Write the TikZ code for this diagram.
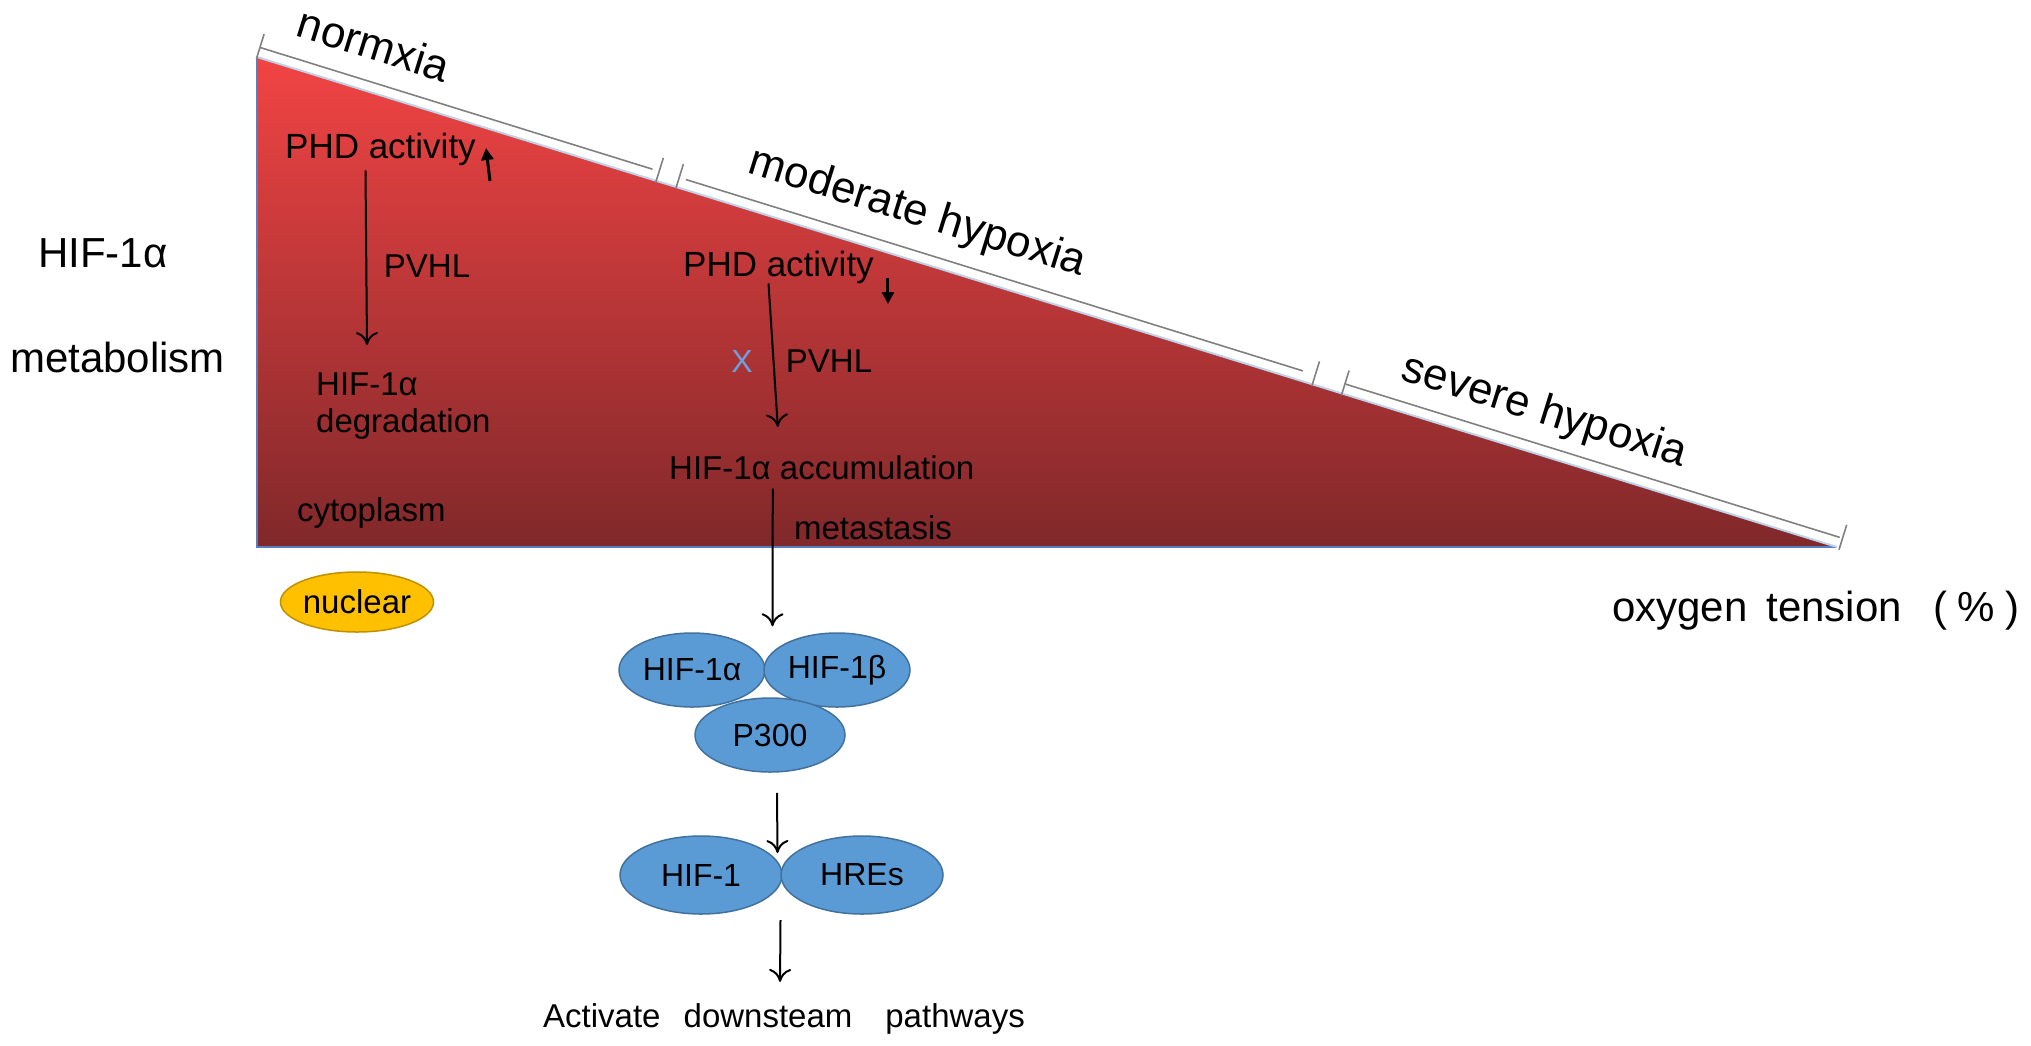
\documentclass[tikz,border=0pt]{standalone}
\usepackage{fontspec}
\setmainfont{Liberation Sans}
\usetikzlibrary{arrows.meta,shapes.geometric,calc}
\definecolor{tritop}{RGB}{242,68,68}
\definecolor{tribot}{RGB}{128,40,42}
\definecolor{triedge}{RGB}{90,125,190}
\definecolor{hypedge}{RGB}{190,210,235}
\definecolor{dimgray}{RGB}{128,128,128}
\definecolor{blobfill}{RGB}{91,155,213}
\definecolor{blobdraw}{RGB}{65,113,156}
\definecolor{nucfill}{RGB}{255,192,0}
\definecolor{nucdraw}{RGB}{191,144,0}
\definecolor{xblue}{RGB}{110,160,220}
\begin{document}
\begin{tikzpicture}[x=1pt,y=-1pt,
  big/.style={font=\fontsize{42}{48}\selectfont, inner sep=0pt},
  zone/.style={font=\fontsize{44}{50}\selectfont, inner sep=0pt, rotate=-17.23},
  txt/.style={font=\fontsize{33}{37}\selectfont, inner sep=0pt},
  phd/.style={font=\fontsize{35}{40}\selectfont, inner sep=0pt},
  blob/.style={ellipse, fill=blobfill, draw=blobdraw, line width=1.5pt, inner sep=0pt, font=\fontsize{32}{36}\selectfont},
  flow/.style={-{To[length=13pt,width=22pt]}, line width=2pt},
  updown/.style={-{Triangle[length=12pt,width=12pt]}, line width=3pt},
  dim/.style={draw=dimgray, line width=1.6pt}]
\useasboundingbox (0,0) rectangle (2031,1045);
\coordinate (A) at (257,57);
\coordinate (B) at (257,547);
\coordinate (C) at (1837,547);
\shade[top color=tritop, bottom color=tribot] (A) -- (B) -- (C) -- cycle;
\draw[triedge, line width=1.5pt] (A) -- (B) -- (C);
\draw[hypedge, line width=2pt] (A) -- (C);
\begin{scope}[shift={(A)}, rotate=-17.23]
  \draw[dim] (0,-10) -- (411,-10);
  \draw[dim] (446,-10) -- (1092,-10);
  \draw[dim] (1137,-10) -- (1654,-10);
  \foreach \s in {0,418,439,1105,1136,1657} \draw[dim] (\s,2) -- (\s,-24);
  \node[zone] (normx) at (108,-47) {normxia};
  \node[zone] (modh) at (677,-46) {moderate hypoxia};
  \node[zone] (sevh) at (1335,-42) {severe hypoxia};
\end{scope}
% left labels
\node[big, anchor=base west] (hifl) at (38,267) {HIF-1α};
\node[big, anchor=base west] (metab) at (10,372) {metabolism};
\node[big, anchor=base west] (oxy) at (1612,621) {oxygen\hspace{0.45em}tension\hspace{0.75em}(\hspace{0.25em}\%\hspace{0.25em})};
% normoxia chain
\node[phd, anchor=base west] (phdA) at (285,158) {PHD activity};
\node[txt] (pvhlA) at (427,266) {PVHL};
\node[txt, anchor=north west, align=left] (degA) at (316,373) {HIF-1α\\degradation};
\node[txt, anchor=base west] (cyto) at (297,521) {cytoplasm};
\node[ellipse, fill=nucfill, draw=nucdraw, line width=1.5pt, minimum width=142, minimum height=60, txt] (nuc) at (357,602) {nuclear};
\draw[flow] ($(phdA.south)+(-15,5)$) -- ($(degA.north west)+(51,-28)$);
\draw[updown] ($(phdA.base east)+(14,23)$) -- ($(phdA.base east)+(10,-10)$);
% moderate hypoxia chain
\node[phd, anchor=base west] (phdB) at (683,276) {PHD activity};
\node[txt] (pvhlB) at (829,361) {PVHL};
\node[font=\fontsize{32}{36}\selectfont, text=xblue, inner sep=0pt] (xmark) at (742,361) {X};
\node[txt, anchor=base west] (acc) at (669,479) {HIF-1α accumulation};
\node[txt] (meta) at (873,528) {metastasis};
\draw[flow] ($(phdB.south)+(-10,0)$) -- ($(acc.north)+(-44,-28)$);
\draw[updown] ($(phdB.base east)+(14,2)$) -- ($(phdB.base east)+(14,28)$);
% complex
\node[blob, minimum width=146, minimum height=74] (hifa) at (692,670) {HIF-1α};
\node[blob, minimum width=146, minimum height=74] (hifb) at (837,670) {HIF-1β};
\node[blob, minimum width=150, minimum height=74] (p300) at (770,735) {P300};
\node[blob, minimum width=162, minimum height=78] (hif1) at (701,875) {HIF-1};
\node[blob, minimum width=162, minimum height=78] (hres) at (862,875) {HREs};
\node[txt, anchor=base west] (act) at (543,1027) {Activate\hspace{0.7em}downsteam\hspace{1em}pathways};
\draw[flow] ($(acc.south)+(-49,9)$) -- ($(hifa.north)!0.5!(hifb.north)+(8,-6)$);
\draw[flow] ($(p300.south)+(7,20)$) -- ($(hif1.east)!0.5!(hres.west)+(-4,-22)$);
\draw[flow] ($(hif1.east)!0.5!(hres.west)+(-1,45)$) -- ($(act.north)+(-4,-21)$);
\end{tikzpicture}
\end{document}
